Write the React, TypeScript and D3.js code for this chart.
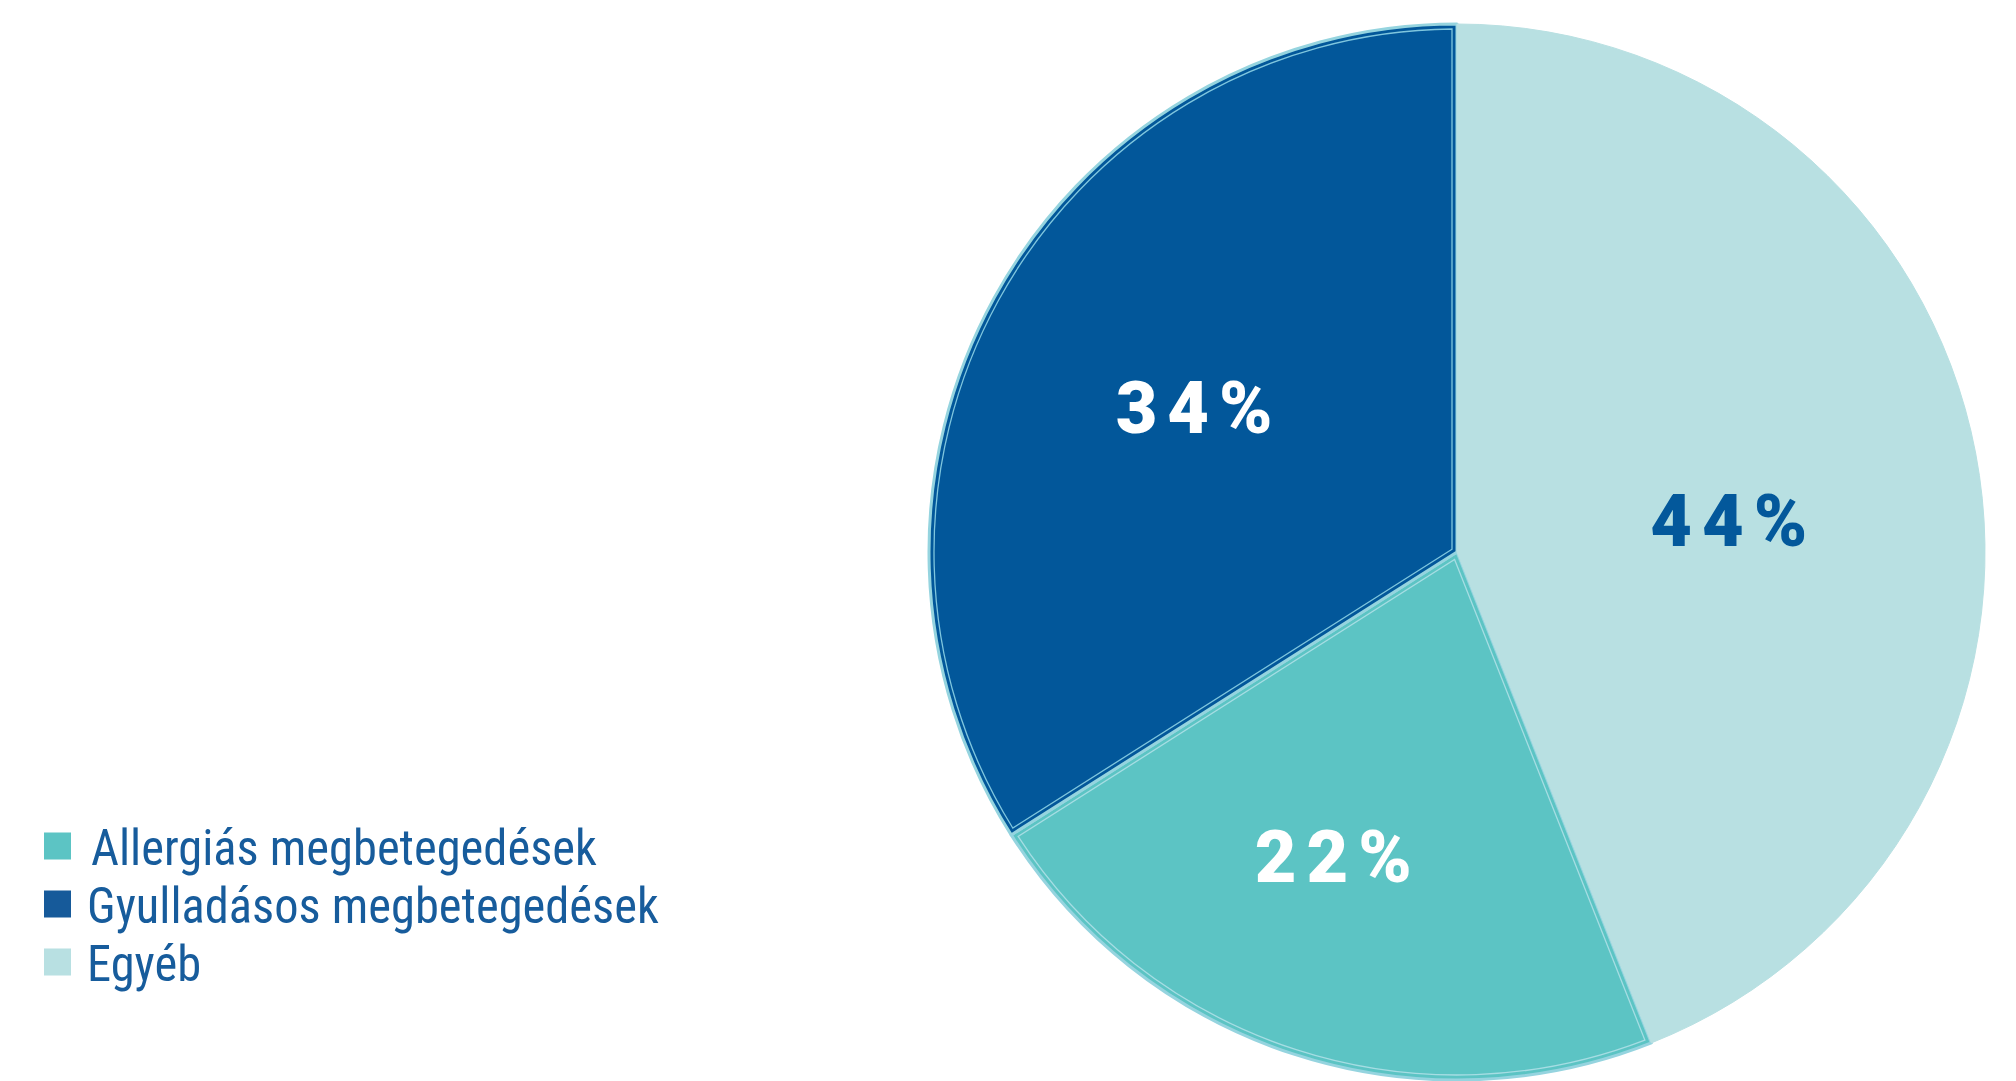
import React from "react";
import * as d3 from "d3";

const categories = ["Allergiás megbetegedések", "Gyulladásos megbetegedések", "Egyéb"];
const values = [22, 34, 44];
const labels = ["22%", "34%", "44%"];

const W = 2016, H = 1081;
const fills = ["#5cc4c4", "#02579a", "#b8e0e2"];
const legendFills = ["#5cc4c4", "#165a9a", "#b8e0e2"];
const labelColors = ["#ffffff", "#ffffff", "#03589b"];
const labelNudge = [[-31, 19], [0, 0], [-23, 24]];

function insetWedge(a0: number, a1: number, r: number, d: number) {
  const half = (a1 - a0) / 2;
  const mid = (a0 + a1) / 2;
  const vd = d / Math.sin(half);
  const vx = Math.sin(mid) * vd, vy = -Math.cos(mid) * vd;
  const ri = r - d;
  const da = Math.asin(d / ri);
  const p = d3.path();
  p.moveTo(vx, vy);
  p.lineTo(Math.sin(a0 + da) * ri, -Math.cos(a0 + da) * ri);
  p.arc(0, 0, ri, a0 + da - Math.PI / 2, a1 - da - Math.PI / 2);
  p.closePath();
  return p.toString();
}

export default function App() {
  const cx = 1457, cy = 552, r = 528;
  const total = d3.sum(values);
  const start = (values[2] / total) * Math.PI * 2;
  const pie = d3.pie<number>().sort(null).startAngle(start).endAngle(start + Math.PI * 2);
  const arcs = pie(values);
  const arc = d3.arc<d3.PieArcDatum<number>>().innerRadius(0).outerRadius(r);
  const labelArc = d3.arc<d3.PieArcDatum<number>>().innerRadius(300).outerRadius(300);
  const legendY = d3.scaleBand<number>().domain(d3.range(categories.length)).range([817, 991]);

  return (
    <svg width={W} height={H} style={{ position: "absolute", left: 0, top: 0, background: "#fff" }}>
      <g transform={`translate(${cx},${cy})`}>
        {arcs.map((a, i) => (
          <path key={"s" + i} d={arc(a) || ""} fill={fills[i]}
            stroke={i === 2 ? fills[2] : "#95d4df"} strokeWidth={i === 2 ? 1 : 3} strokeLinejoin="round" />
        ))}
        {arcs.map((a, i) =>
          i === 2 ? null : (
            <path key={"in" + i} d={insetWedge(a.startAngle, a.endAngle, r, 5)} fill="none"
              stroke={i === 0 ? "#a6dde3" : "#7fc6de"} strokeWidth={1.3} />
          )
        )}
        {arcs.map((a, i) => {
          const [x, y] = labelArc.centroid(a);
          return (
            <text key={"l" + i} x={x + labelNudge[i][0] + 5} y={y + labelNudge[i][1]} dy="0.36em"
              textAnchor="middle" fill={labelColors[i]}
              style={{ fontFamily: "Roboto, 'Open Sans', sans-serif", fontWeight: 900, fontSize: 72, letterSpacing: 10 }}>
              {labels[i]}
            </text>
          );
        })}
      </g>
      <g>
        {categories.map((c, i) => {
          const y = (legendY(i) || 0) + legendY.bandwidth() / 2;
          return (
            <g key={"lg" + i}>
              <rect x={44} y={y - 13.5} width={27} height={27} fill={legendFills[i]} />
              <text transform={`translate(${i === 0 ? 91 : 87},${y + 19}) scale(0.97,1)`} fill="#175c9c"
                style={{ fontFamily: "'Liberation Sans Narrow', 'Roboto Condensed', 'DejaVu Sans Condensed', sans-serif", fontSize: 50 }}>
                {c}
              </text>
            </g>
          );
        })}
      </g>
    </svg>
  );
}
